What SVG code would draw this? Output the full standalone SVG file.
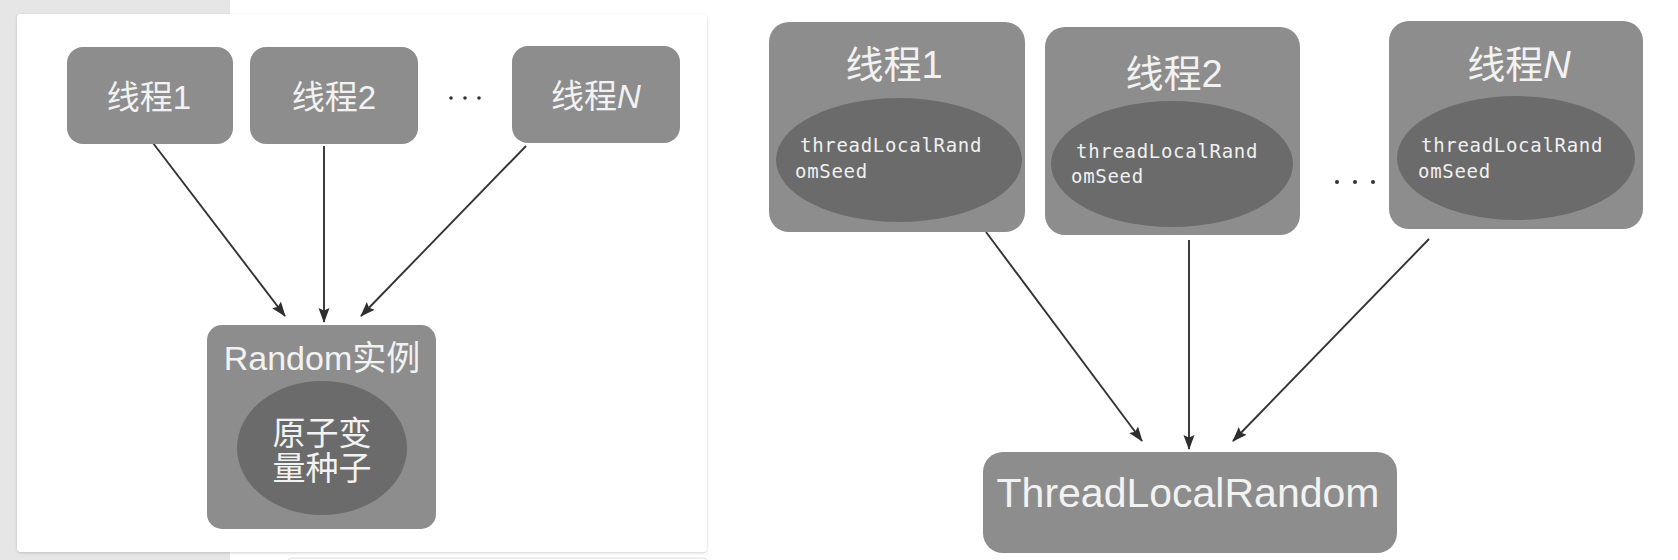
<svg xmlns="http://www.w3.org/2000/svg" width="1678" height="560" viewBox="0 0 1678 560">
<style>
.box{fill:#8d8d8d}
.ell{fill:#6b6b6b}
.t{fill:#f2f2f2;font-family:"Liberation Sans","Noto Sans CJK SC",sans-serif}
.m{fill:#f0f0f0;font-family:"DejaVu Sans Mono","Liberation Mono",monospace;font-size:19px;letter-spacing:0.7px}
.c{stroke:#333333;stroke-width:1.9;fill:none;marker-end:url(#ah)}
.dot{fill:#333}
</style>
<defs>
<marker id="ah" markerUnits="userSpaceOnUse" markerWidth="15" markerHeight="12" viewBox="0 0 15 12" refX="14" refY="6" orient="auto">
<path d="M0,0.5 L15,6 L0,11.5 L2.5,6 z" fill="#2e2e2e"/>
</marker>
<filter id="sh" x="-5%" y="-5%" width="110%" height="110%">
<feDropShadow dx="0" dy="1" stdDeviation="1.5" flood-color="#000" flood-opacity="0.18"/>
</filter>
</defs>
<rect x="0" y="0" width="1678" height="560" fill="#ffffff"/>
<rect x="0" y="0" width="230" height="560" fill="#e6e6e6"/>
<rect x="288" y="558" width="419" height="10" rx="4" fill="#ffffff" stroke="#dcdcdc" stroke-width="1"/>
<rect id="panel" x="17" y="14" width="690" height="538" rx="4" fill="#ffffff" filter="url(#sh)"/>

<g id="connectors">
<line class="c" x1="153" y1="143" x2="285" y2="316"/>
<line class="c" x1="324" y1="146" x2="324" y2="322"/>
<line class="c" x1="526" y1="146" x2="361" y2="316"/>
<line class="c" x1="986" y1="232" x2="1142" y2="441"/>
<line class="c" x1="1189" y1="240" x2="1189" y2="449"/>
<line class="c" x1="1429" y1="239" x2="1233" y2="441"/>
</g>

<g id="l-thread1">
<rect class="box" x="67" y="47" width="166" height="97" rx="16"/>
<text class="t" x="149" y="109" font-size="33" text-anchor="middle">线程1</text>
</g>
<g id="l-thread2">
<rect class="box" x="250" y="47" width="168" height="97" rx="16"/>
<text class="t" x="334" y="109" font-size="33" text-anchor="middle">线程2</text>
</g>
<g id="l-dots">
<circle class="dot" cx="451" cy="98" r="1.8"/>
<circle class="dot" cx="465" cy="98" r="1.8"/>
<circle class="dot" cx="479" cy="98" r="1.8"/>
</g>
<g id="l-threadN">
<rect class="box" x="512" y="46" width="168" height="97" rx="16"/>
<text class="t" x="596" y="108" font-size="33" text-anchor="middle">线程<tspan font-style="italic">N</tspan></text>
</g>
<g id="l-random">
<rect class="box" x="207" y="325" width="229" height="204" rx="15"/>
<text class="t" x="322" y="370" font-size="34" text-anchor="middle">Random实例</text>
<ellipse class="ell" cx="322" cy="448" rx="85" ry="67"/>
<text class="t" x="322" y="445" font-size="33" text-anchor="middle">原子变</text>
<text class="t" x="322" y="480" font-size="33" text-anchor="middle">量种子</text>
</g>

<g id="r-thread1">
<rect class="box" x="769" y="22" width="256" height="210" rx="20"/>
<text class="t" x="894" y="78" font-size="38" text-anchor="middle">线程1</text>
<ellipse class="ell" cx="899" cy="160" rx="123" ry="62"/>
<text class="m" x="800" y="152">threadLocalRand</text>
<text class="m" x="795" y="178">omSeed</text>
</g>
<g id="r-thread2">
<rect class="box" x="1045" y="27" width="255" height="208" rx="20"/>
<text class="t" x="1174" y="87" font-size="38" text-anchor="middle">线程2</text>
<ellipse class="ell" cx="1172" cy="164" rx="121" ry="63"/>
<text class="m" x="1076" y="158">threadLocalRand</text>
<text class="m" x="1071" y="183">omSeed</text>
</g>
<g id="r-dots">
<circle class="dot" cx="1337" cy="182" r="2"/>
<circle class="dot" cx="1355" cy="182" r="2"/>
<circle class="dot" cx="1373" cy="182" r="2"/>
</g>
<g id="r-threadN">
<rect class="box" x="1389" y="21" width="254" height="208" rx="20"/>
<text class="t" x="1519" y="78" font-size="38" text-anchor="middle">线程<tspan font-style="italic">N</tspan></text>
<ellipse class="ell" cx="1516" cy="158" rx="119" ry="62"/>
<text class="m" x="1421" y="152">threadLocalRand</text>
<text class="m" x="1418" y="178">omSeed</text>
</g>
<g id="r-tlr">
<rect class="box" x="983" y="452" width="414" height="101" rx="20"/>
<text class="t" x="1188" y="507" font-size="41" text-anchor="middle">ThreadLocalRandom</text>
</g>
</svg>
